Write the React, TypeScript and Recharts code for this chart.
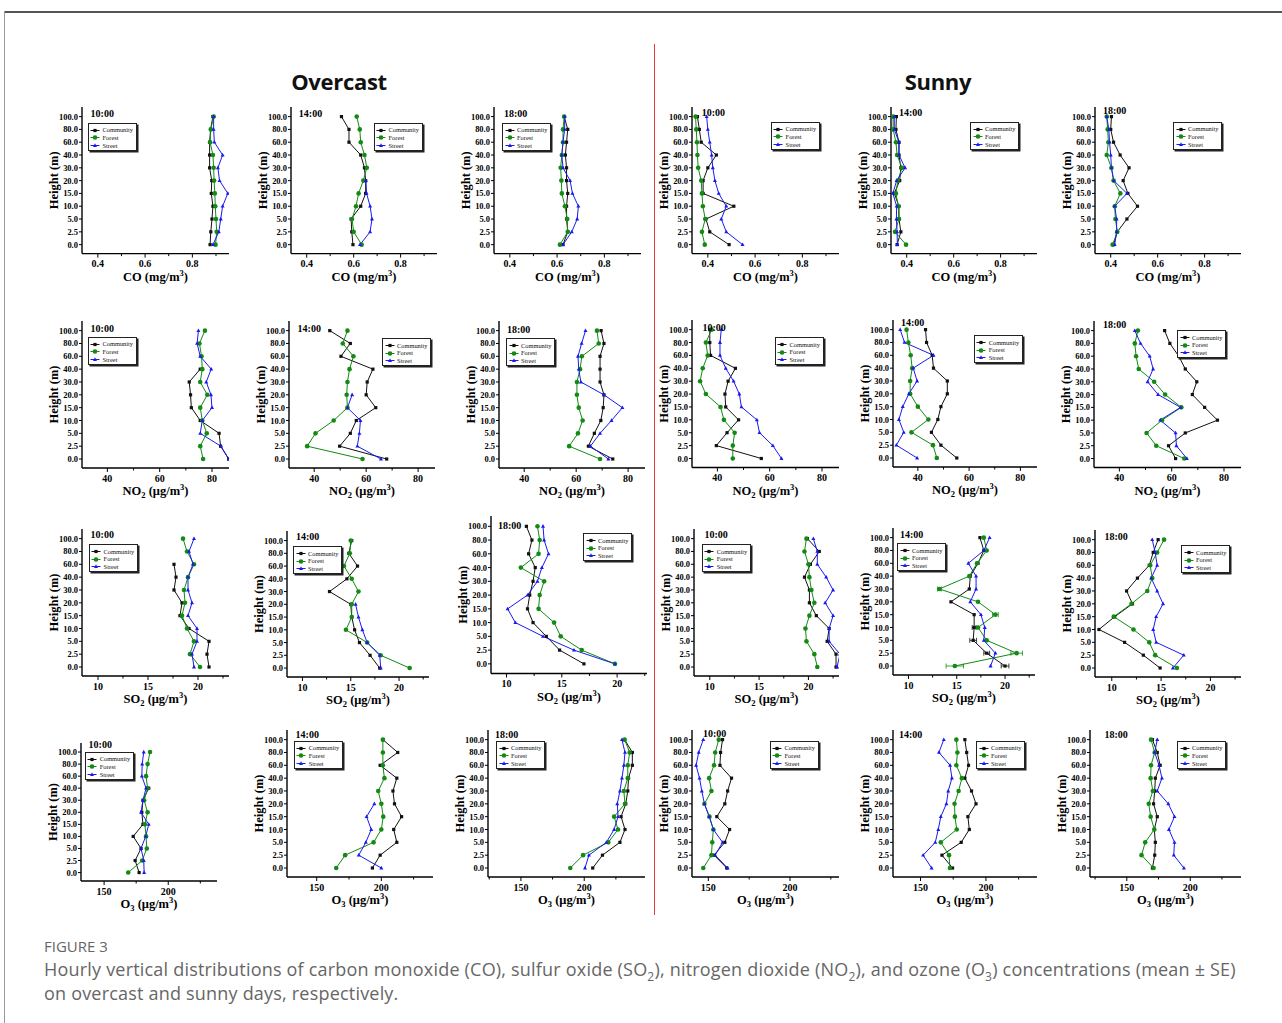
import React from 'react'
import { LineChart, Line, XAxis, YAxis, ErrorBar } from 'recharts'

const SERIF = '"Liberation Serif", "Times New Roman", serif'
const SANS = '"Open Sans", "Noto Sans", sans-serif'

// heights from top of the axis to the bottom
const HEIGHTS = ['100.0', '80.0', '60.0', '40.0', '30.0', '20.0', '15.0', '10.0', '5.0', '2.5', '0.0']
const SITES = ['Community', 'Forest', 'Street']
const COLORS = ['#111111', '#138a13', '#1a1af0']
const TIMES = ['10:00', '14:00', '18:00']

type S = (number | null)[]
const _ = null

// CO (mg/m3): [community, forest, street]
const CO_OVC_10: S[] = [
  [0.887, 0.877, 0.873, 0.873, 0.873, 0.882, 0.88, 0.887, 0.883, 0.878, 0.875],
  [0.89, 0.878, 0.875, 0.887, 0.89, 0.892, 0.895, 0.897, 0.9, 0.903, 0.898],
  [0.89, 0.89, 0.893, 0.928, 0.908, 0.915, 0.95, 0.928, 0.92, 0.912, 0.887],
]
const CO_OVC_14: S[] = [
  [0.548, 0.58, 0.58, 0.63, 0.646, 0.651, 0.651, 0.63, 0.589, 0.592, 0.597],
  [0.613, 0.626, 0.63, 0.646, 0.656, 0.641, 0.621, 0.61, 0.593, 0.6, 0.634],
  [_, _, _, _, _, 0.652, 0.655, 0.67, 0.678, 0.67, 0.627],
]
const CO_OVC_18: S[] = [
  [0.63, 0.645, 0.64, 0.635, 0.64, 0.64, 0.645, 0.64, 0.64, 0.645, 0.625],
  [0.63, 0.625, 0.625, 0.62, 0.615, 0.618, 0.62, 0.633, 0.643, 0.645, 0.612],
  [0.632, 0.632, 0.625, 0.62, 0.625, 0.655, 0.665, 0.69, 0.685, 0.662, 0.625],
]
const CO_SUN_10: S[] = [
  [0.356, 0.364, 0.372, 0.436, 0.4, 0.38, 0.38, 0.51, 0.392, 0.408, 0.49],
  [0.348, 0.351, 0.354, 0.356, 0.359, 0.372, 0.375, 0.379, 0.389, 0.375, 0.387],
  [0.395, 0.4, 0.408, 0.416, 0.421, 0.43, 0.446, 0.478, 0.457, 0.478, 0.547],
]
const CO_SUN_14: S[] = [
  [0.356, 0.354, 0.367, 0.367, 0.375, 0.37, 0.347, 0.367, 0.367, 0.375, 0.359],
  [0.342, 0.342, 0.354, 0.359, 0.38, 0.362, 0.354, 0.364, 0.367, 0.35, 0.397],
  [0.347, 0.347, 0.367, 0.367, 0.393, 0.357, 0.341, 0.357, 0.356, 0.359, 0.36],
]
const CO_SUN_18: S[] = [
  [0.403, 0.4, 0.412, 0.44, 0.478, 0.453, 0.473, 0.514, 0.469, 0.428, 0.412],
  [0.383, 0.387, 0.39, 0.383, 0.403, 0.412, 0.441, 0.417, 0.42, 0.428, 0.408],
  [0.383, 0.392, 0.395, 0.4, 0.403, 0.413, 0.469, 0.417, 0.425, 0.425, 0.417],
]

// NO2 (ug/m3)
const NO2_OVC_10: S[] = [
  [_, _, _, 75.5, 71.3, 71.8, 72.1, 75.5, 82.7, 83.3, 86.4],
  [77.3, 75.2, 76.0, 76.3, 75.5, 78.2, 75.5, 76.3, 78.0, 75.5, 76.6],
  [74.8, 74.3, 75.5, 79.7, 77.8, 79.6, 80.0, 76.3, 75.5, 83.4, 86.4],
]
const NO2_OVC_14: S[] = [
  [46.0, 53.9, 50.3, 62.6, 60.4, 60.0, 63.7, 56.2, 53.9, 49.8, 67.9],
  [52.8, 51.0, 55.1, 53.6, 52.8, 52.5, 52.8, 47.5, 40.5, 37.3, 58.6],
  [_, _, _, _, _, 54.6, 52.8, 57.8, 57.4, 56.6, 65.7],
]
const NO2_OVC_18: S[] = [
  [69.6, 70.7, 69.2, 69.2, 69.2, 70.7, 70.4, 69.5, 67.0, 64.7, 74.1],
  [68.0, 68.7, 62.2, 61.5, 60.3, 60.3, 61.0, 62.5, 60.7, 57.3, 69.2],
  [63.6, 62.1, 60.7, 61.0, 61.8, 70.7, 77.8, 73.6, 69.2, 65.5, 72.4],
]
const NO2_SUN_10: S[] = [
  [37.1, 37.1, 37.4, 46.9, 44.1, 42.9, 43.2, 48.1, 43.7, 39.6, 56.8],
  [37.8, 35.6, 36.3, 34.4, 33.4, 35.6, 41.2, 42.5, 46.6, 45.9, 45.9],
  [41.5, 41.0, 41.0, 43.2, 46.2, 48.4, 49.2, 55.1, 56.1, 61.2, 64.5],
]
const NO2_SUN_14: S[] = [
  [43.0, 43.4, 45.6, 46.1, 51.5, 51.5, 49.0, 47.8, 45.3, 49.0, 55.2],
  [35.6, 36.3, 37.2, 37.8, 37.0, 37.0, 40.0, 44.1, 37.5, 45.9, 47.4],
  [33.1, 34.8, 46.1, 38.2, 39.7, 36.5, 34.1, 32.6, 34.5, 31.6, 39.7],
]
const NO2_SUN_18: S[] = [
  [57.3, 59.3, 62.7, 65.2, 69.6, 67.9, 72.6, 77.5, 65.2, 58.8, 61.5],
  [47.1, 45.9, 46.4, 47.4, 53.3, 57.5, 63.7, 56.3, 50.4, 54.1, 64.8],
  [45.9, 48.1, 51.6, 52.9, 50.8, 54.8, 63.4, 55.6, 61.5, 61.8, 65.8],
]

// SO2 (ug/m3)
const SO2_OVC_10: S[] = [
  [_, _, 17.6, 17.8, 17.6, 18.4, 18.2, 19.1, 21.1, 20.9, 21.1],
  [18.5, 18.9, 19.6, 19.0, 18.6, 18.7, 18.4, 18.9, 19.6, 19.2, 20.2],
  [19.6, 19.1, 19.5, 19.0, 19.0, 19.4, 19.0, 19.9, 19.9, 19.4, 19.6],
]
const SO2_OVC_14: S[] = [
  [15.1, 14.8, 15.7, 14.6, 12.8, 15.0, 15.1, 15.4, 15.9, 17.0, 18.0],
  [15.0, 14.9, 14.3, 15.1, 15.8, 15.1, 15.1, 14.5, 16.7, 18.1, 21.1],
  [_, _, _, _, _, 15.5, 15.8, 16.2, 16.7, 18.0, 18.1],
]
const SO2_OVC_18: S[] = [
  [11.8, 12.3, 12.0, 12.6, 12.4, 12.1, 11.9, 12.4, 13.6, 14.8, 17.0],
  [12.8, 13.0, 12.9, 11.3, 13.4, 13.0, 12.9, 14.3, 14.9, 16.8, 19.8],
  [13.3, 13.4, 13.8, 13.2, 12.8, 11.9, 10.1, 10.8, 13.3, 16.1, 19.8],
]
const SO2_SUN_10: S[] = [
  [19.9, 21.1, 20.2, 19.6, 20.1, 20.1, 20.8, 22.1, 21.9, 22.8, 22.8],
  [19.8, 19.6, 20.0, 20.1, 20.3, 20.6, 20.1, 19.7, 19.8, 20.6, 20.9],
  [20.5, 20.9, 20.9, 21.8, 22.5, 21.7, 22.5, 22.1, 22.1, 23.2, 22.9],
]
const SO2_SUN_14: S[] = [
  [17.4, 17.8, 17.2, 16.4, 16.3, 14.4, 16.8, 16.8, 16.7, 18.1, 20.0],
  [17.8, 18.1, 17.1, 16.3, 13.2, 17.2, 19.0, 17.2, 18.1, 21.2, 14.8],
  [18.4, 17.8, 16.2, 17.0, 17.0, 16.4, 17.5, 17.9, 17.8, 19.0, 18.5],
]
// standard errors visible in the sunny 14:00 SO2 panel
const SO2_SUN_14_SE: S[] = [
  [_, _, _, _, _, _, _, 0.2, 0.35, 0.3, 0.4],
  [_, _, _, _, 0.2, _, 0.3, _, _, 0.6, 0.9],
  [_, _, _, _, _, _, _, _, _, _, _],
]
const SO2_SUN_18: S[] = [
  [14.7, 14.2, 13.8, 12.6, 11.5, 12.1, 10.3, 8.7, 11.3, 13.2, 14.9],
  [15.3, 14.6, 13.9, 14.1, 13.6, 12.0, 10.2, 12.2, 13.8, 14.4, 16.6],
  [14.1, 14.4, 14.6, 14.0, 14.6, 15.2, 14.5, 14.2, 14.5, 17.3, 16.2],
]

// O3 (ug/m3)
const O3_OVC_10: S[] = [
  [_, _, _, 184.8, 180.3, 179.4, 180.3, 172.7, 178.8, 174.2, 177.3],
  [185.8, 183.9, 182.7, 183.9, 181.2, 183.9, 181.8, 182.7, 183.3, 179.7, 168.8],
  [180.9, 179.7, 179.4, 182.7, 180.3, 178.8, 184.8, 182.4, 178.8, 180.9, 181.2],
]
const O3_OVC_14: S[] = [
  [201.2, 212.7, 199.1, 212.0, 209.0, 210.2, 215.7, 209.6, 212.0, 199.1, 193.1],
  [201.2, 201.2, 201.2, 202.4, 197.6, 200.0, 201.5, 200.0, 194.0, 172.0, 165.1],
  [_, _, _, _, _, 194.6, 188.6, 192.2, 188.0, 182.5, 200.0],
]
const O3_OVC_18: S[] = [
  [231.9, 238.0, 238.0, 235.0, 234.4, 232.8, 229.1, 232.2, 228.2, 214.4, 206.7],
  [231.9, 235.9, 234.4, 234.4, 231.3, 232.2, 223.6, 226.7, 219.0, 199.1, 189.0],
  [229.8, 232.2, 231.3, 229.8, 228.2, 226.1, 226.7, 223.6, 217.5, 203.7, 200.6],
]
const O3_SUN_10: S[] = [
  [158.7, 157.5, 157.1, 164.2, 161.8, 160.1, 155.2, 163.0, 160.1, 153.5, 161.3],
  [156.4, 154.2, 153.5, 150.5, 151.9, 147.6, 150.7, 153.1, 152.4, 151.9, 146.9],
  [146.9, 144.1, 142.5, 144.6, 146.0, 147.6, 150.5, 153.1, 158.7, 154.2, 161.8],
]
const O3_SUN_14: S[] = [
  [183.9, 185.3, 186.7, 183.9, 189.0, 192.4, 186.2, 187.3, 181.1, 166.4, 174.5],
  [177.4, 178.2, 177.4, 181.6, 179.1, 176.0, 176.3, 177.7, 165.5, 171.8, 172.5],
  [167.8, 164.1, 172.6, 174.0, 171.2, 169.8, 165.5, 163.6, 161.3, 152.0, 158.5],
]
const O3_SUN_18: S[] = [
  [170.2, 174.0, 176.3, 172.5, 172.0, 171.1, 174.0, 171.7, 172.5, 172.0, 170.2],
  [169.1, 172.0, 169.1, 168.8, 170.5, 167.3, 168.8, 171.7, 164.5, 161.6, 171.1],
  [174.0, 172.0, 175.4, 177.7, 174.0, 182.7, 187.6, 183.2, 187.6, 187.0, 195.0],
]

const GASES = {
  CO: { name: 'CO', sub: '', unit: 'mg', major: [0.4, 0.6, 0.8], minor: [0.3, 0.5, 0.7, 0.9], fmt: (v: number) => v.toFixed(1) },
  NO2: { name: 'NO', sub: '2', unit: 'μg', major: [40, 60, 80], minor: [30, 50, 70], fmt: (v: number) => String(v) },
  SO2: { name: 'SO', sub: '2', unit: 'μg', major: [10, 15, 20], minor: [12.5, 17.5, 22.5], fmt: (v: number) => String(v) },
  O3: { name: 'O', sub: '3', unit: 'μg', major: [150, 200], minor: [125, 175, 225], fmt: (v: number) => String(v) },
}

type Gas = keyof typeof GASES
type PanelDef = { gas: Gas; t: number; data: S[]; domain: [number, number]; se?: S[] }

const PANELS: PanelDef[] = [
  { gas: 'CO', t: 0, data: CO_OVC_10, domain: [0.333, 0.955] },
  { gas: 'CO', t: 1, data: CO_OVC_14, domain: [0.333, 0.955] },
  { gas: 'CO', t: 2, data: CO_OVC_18, domain: [0.333, 0.955] },
  { gas: 'CO', t: 0, data: CO_SUN_10, domain: [0.333, 0.955] },
  { gas: 'CO', t: 1, data: CO_SUN_14, domain: [0.333, 0.955] },
  { gas: 'CO', t: 2, data: CO_SUN_18, domain: [0.333, 0.955] },
  { gas: 'NO2', t: 0, data: NO2_OVC_10, domain: [30.3, 86.5] },
  { gas: 'NO2', t: 1, data: NO2_OVC_14, domain: [30.3, 86.5] },
  { gas: 'NO2', t: 2, data: NO2_OVC_18, domain: [30.3, 86.5] },
  { gas: 'NO2', t: 0, data: NO2_SUN_10, domain: [30.3, 86.5] },
  { gas: 'NO2', t: 1, data: NO2_SUN_14, domain: [30.3, 86.5] },
  { gas: 'NO2', t: 2, data: NO2_SUN_18, domain: [30.3, 86.5] },
  { gas: 'SO2', t: 0, data: SO2_OVC_10, domain: [8.4, 23.1] },
  { gas: 'SO2', t: 1, data: SO2_OVC_14, domain: [8.4, 23.1] },
  { gas: 'SO2', t: 2, data: SO2_OVC_18, domain: [8.6, 22.7] },
  { gas: 'SO2', t: 0, data: SO2_SUN_10, domain: [8.4, 23.1] },
  { gas: 'SO2', t: 1, data: SO2_SUN_14, domain: [8.4, 23.1], se: SO2_SUN_14_SE },
  { gas: 'SO2', t: 2, data: SO2_SUN_18, domain: [8.3, 23.1] },
  { gas: 'O3', t: 0, data: O3_OVC_10, domain: [132, 238] },
  { gas: 'O3', t: 1, data: O3_OVC_14, domain: [127, 240] },
  { gas: 'O3', t: 2, data: O3_OVC_18, domain: [124, 248] },
  { gas: 'O3', t: 0, data: O3_SUN_10, domain: [140, 230] },
  { gas: 'O3', t: 1, data: O3_SUN_14, domain: [129, 239] },
  { gas: 'O3', t: 2, data: O3_SUN_18, domain: [121, 240] },
]

// plot box (y-axis x, plot top, width, height), legend box and time label positions
const LAYOUT = [
  { x: 82, y: 107.4, w: 147, h: 146.6, leg: [87.5, 122.7], time: [90.6, 114.3] },
  { x: 291, y: 107.4, w: 146, h: 146.6, leg: [373.5, 122.7], time: [298.8, 114] },
  { x: 494, y: 107.4, w: 147, h: 146.6, leg: [502, 122.7], time: [504, 114] },
  { x: 692, y: 107.4, w: 147, h: 146.6, leg: [770.6, 121.7], time: [701.7, 113] },
  { x: 891, y: 107.4, w: 146, h: 146.6, leg: [970, 121.7], time: [899, 112.7] },
  { x: 1095, y: 107.4, w: 146, h: 146.6, leg: [1173, 121.7], time: [1103, 111] },
  { x: 82, y: 321.4, w: 147, h: 147, leg: [87.5, 336.7], time: [90.6, 329.3] },
  { x: 289, y: 321.4, w: 146, h: 147, leg: [382, 338], time: [297.6, 329.3] },
  { x: 499, y: 321.4, w: 146, h: 147, leg: [506, 338], time: [507, 330] },
  { x: 692, y: 320.3, w: 147, h: 147.5, leg: [774.5, 337], time: [702.5, 328.3] },
  { x: 893, y: 319.7, w: 144, h: 147, leg: [973.7, 335], time: [901, 322.7] },
  { x: 1094, y: 321, w: 147, h: 146.5, leg: [1177, 330], time: [1103, 325] },
  { x: 82, y: 528.9, w: 147, h: 147, leg: [88.6, 544], time: [90.6, 535] },
  { x: 287, y: 531, w: 142, h: 146, leg: [293, 546], time: [296, 536.7] },
  { x: 491, y: 516.4, w: 156, h: 157.5, leg: [583, 533], time: [498, 526] },
  { x: 694, y: 528.9, w: 145, h: 147, leg: [701.7, 544], time: [704.5, 535] },
  { x: 893, y: 528.3, w: 142, h: 147, leg: [897, 543], time: [900, 535] },
  { x: 1095, y: 529.5, w: 146, h: 147, leg: [1181, 545], time: [1104.5, 536.7] },
  { x: 81, y: 742.7, w: 136, h: 138, leg: [84.7, 751.7], time: [88.6, 745] },
  { x: 287, y: 730.4, w: 146, h: 147, leg: [293.7, 740.7], time: [295.6, 735] },
  { x: 488, y: 730.4, w: 157, h: 147, leg: [496, 740.7], time: [495, 735] },
  { x: 692, y: 730.4, w: 147, h: 147, leg: [769.5, 740.7], time: [703, 734] },
  { x: 893, y: 730.4, w: 144, h: 147, leg: [976, 740.7], time: [899, 735] },
  { x: 1090, y: 730.4, w: 151, h: 147, leg: [1177, 740.7], time: [1104.5, 735] },
]

const AXIS = { stroke: '#000', strokeWidth: 1.4 }
const LEFT = 44
const TOP = 10

function marker(kind: number, cx: number, cy: number, color: string, key?: number) {
  if (kind === 0) return <rect key={key} x={cx - 1.6} y={cy - 1.6} width={3.2} height={3.2} fill={color} />
  if (kind === 1) return <circle key={key} cx={cx} cy={cy} r={2.3} fill={color} />
  return <path key={key} d={`M${cx},${cy - 2.2}L${cx + 2},${cy + 1.4}L${cx - 2},${cy + 1.4}Z`} fill={color} />
}

const makeDot = (kind: number) => (props: any) => {
  const { cx, cy, index } = props
  if (!Number.isFinite(cx) || !Number.isFinite(cy)) return <g key={index} />
  return marker(kind, cx, cy, COLORS[kind], index)
}

const XTick = ({ x, y, payload, major, fmt }: any) => {
  const v = payload.value
  const isMajor = major.some((m: number) => Math.abs(m - v) < 1e-6)
  return (
    <g>
      <line x1={x} x2={x} y1={y} y2={y + (isMajor ? 4 : 2.5)} stroke="#000" strokeWidth={1} />
      {isMajor && (
        <text x={x} y={y + 13.5} textAnchor="middle" fontFamily={SERIF} fontWeight={700} fontSize={10} fill="#000">
          {fmt(v)}
        </text>
      )}
    </g>
  )
}

const XTitle = ({ viewBox, gas }: any) => {
  const g = GASES[gas as Gas]
  const cx = viewBox.x + viewBox.width / 2
  const by = viewBox.y + 27
  return (
    <text x={cx} y={by} textAnchor="middle" fontFamily={SERIF} fontWeight={700} fontSize={12.5} fill="#000">
      <tspan>{g.name}</tspan>
      {g.sub ? <tspan fontSize={8.5} dy={3}>{g.sub}</tspan> : null}
      <tspan dy={g.sub ? -3 : 0}>{` (${g.unit}/m`}</tspan>
      <tspan fontSize={8.5} dy={-5}>3</tspan>
      <tspan dy={5}>)</tspan>
    </text>
  )
}

const YTitle = ({ viewBox }: any) => {
  const cx = viewBox.x + viewBox.width - 28
  const cy = viewBox.y + viewBox.height / 2
  return (
    <text x={cx} y={cy} transform={`rotate(-90 ${cx} ${cy})`} textAnchor="middle" dominantBaseline="central"
      fontFamily={SERIF} fontWeight={700} fontSize={12.5} fill="#000">
      Height (m)
    </text>
  )
}

function LegendBox({ x, y }: { x: number; y: number }) {
  return (
    <div style={{
      position: 'absolute', left: x, top: y, width: 49, height: 28, boxSizing: 'border-box',
      border: '1px solid #222', boxShadow: '1.5px 1.5px 0 #222', background: '#fff',
      padding: '2.5px 0 0 1.5px', fontFamily: SERIF, fontSize: 6.4, lineHeight: '7.7px', color: '#111',
      overflow: 'hidden',
    }}>
      {SITES.map((s, i) => (
        <div key={s} style={{ display: 'flex', alignItems: 'center', height: 7.7, whiteSpace: 'nowrap' }}>
          <svg width={10} height={7} style={{ flex: 'none' }}>
            <line x1={0.5} x2={9.5} y1={3.5} y2={3.5} stroke={COLORS[i]} strokeWidth={1} />
            {marker(i, 5, 3.5, COLORS[i])}
          </svg>
          <span style={{ marginLeft: 2.5 }}>{s}</span>
        </div>
      ))}
    </div>
  )
}

function Panel({ def, box }: { def: PanelDef; box: (typeof LAYOUT)[number] }) {
  const g = GASES[def.gas]
  const rows = HEIGHTS.map((_h, i) => ({
    idx: i,
    c: def.data[0][i], f: def.data[1][i], s: def.data[2][i],
    ce: def.se ? def.se[0][i] : null, fe: def.se ? def.se[1][i] : null, se: def.se ? def.se[2][i] : null,
  }))
  const ticks = [...g.major, ...g.minor].filter((v) => v >= def.domain[0] && v <= def.domain[1]).sort((a, b) => a - b)
  return (
    <div style={{ position: 'absolute', left: box.x - LEFT, top: box.y - TOP }}>
      <LineChart width={box.w + LEFT + 6} height={box.h + TOP + 40} layout="vertical" data={rows}
        margin={{ top: TOP, right: 6, left: 0, bottom: 0 }}>
        <XAxis type="number" domain={def.domain} allowDataOverflow ticks={ticks} interval={0}
          tickSize={0} tickMargin={0} tickLine={false} axisLine={AXIS} height={40}
          tick={<XTick major={g.major} fmt={g.fmt} />}
          label={{ content: (p: any) => <XTitle {...p} gas={def.gas} /> }} />
        <YAxis type="number" dataKey="idx" domain={[-0.75, 10.7]} allowDataOverflow
          ticks={[0, 1, 2, 3, 4, 5, 6, 7, 8, 9, 10]} interval={0} width={LEFT}
          tickFormatter={(v: number) => HEIGHTS[v]} tickSize={3} tickMargin={1}
          tick={{ fontSize: 8.5, fontWeight: 700, fill: '#000', fontFamily: SERIF }}
          tickLine={{ stroke: '#000', strokeWidth: 1 }} axisLine={AXIS}
          label={{ content: (p: any) => <YTitle {...p} /> }} />
        {['c', 'f', 's'].map((k, i) => (
          <Line key={k} dataKey={k} stroke={COLORS[i]} strokeWidth={1} dot={makeDot(i)} activeDot={false}
            isAnimationActive={false} connectNulls={false}>
            {def.se ? <ErrorBar dataKey={k + 'e'} direction="x" width={2.5} stroke={COLORS[i]} strokeWidth={0.8} isAnimationActive={false} /> : null}
          </Line>
        ))}
      </LineChart>
    </div>
  )
}

const SUB = { fontSize: 12, lineHeight: 0 }

export default function App() {
  return (
    <div style={{ position: 'absolute', left: 0, top: 0, width: 1282, height: 1023, background: '#fff', overflow: 'hidden' }}>
      <div style={{ position: 'absolute', left: 4, top: 11, width: 1278, height: 1.5, background: '#555' }} />
      <div style={{ position: 'absolute', left: 4, top: 11, width: 1, height: 1012, background: '#999' }} />
      <div style={{ position: 'absolute', left: 654, top: 44, width: 1, height: 871, background: '#e23a3a' }} />
      <div style={{ position: 'absolute', left: 239, width: 200, top: 66, textAlign: 'center', fontFamily: SANS, fontWeight: 700, fontSize: 22, letterSpacing: -0.3, color: '#111' }}>Overcast</div>
      <div style={{ position: 'absolute', left: 838, width: 200, top: 66, textAlign: 'center', fontFamily: SANS, fontWeight: 700, fontSize: 22, letterSpacing: -0.3, color: '#111' }}>Sunny</div>

      {PANELS.map((def, i) => (
        <Panel key={i} def={def} box={LAYOUT[i]} />
      ))}
      {LAYOUT.map((b, i) => (
        <LegendBox key={'l' + i} x={b.leg[0]} y={b.leg[1]} />
      ))}
      {LAYOUT.map((b, i) => (
        <div key={'t' + i} style={{ position: 'absolute', left: b.time[0], top: b.time[1] - 6, fontFamily: SERIF, fontWeight: 700, fontSize: 10, lineHeight: '12px', color: '#000' }}>
          {TIMES[PANELS[i].t]}
        </div>
      ))}

      <div style={{ position: 'absolute', left: 44, top: 936, fontFamily: SANS, fontSize: 15, lineHeight: '20px', color: '#666', letterSpacing: 0 }}>FIGURE 3</div>
      <div style={{ position: 'absolute', left: 44, top: 957, width: 1230, fontFamily: SANS, fontSize: 18, lineHeight: '24px', color: '#666', letterSpacing: 0.2, whiteSpace: 'nowrap' }}>
        Hourly vertical distributions of carbon monoxide (CO), sulfur oxide (SO<sub style={SUB}>2</sub>), nitrogen dioxide (NO<sub style={SUB}>2</sub>), and ozone (O<sub style={SUB}>3</sub>) concentrations (mean ± SE)
        <br />
        on overcast and sunny days, respectively.
      </div>
    </div>
  )
}
